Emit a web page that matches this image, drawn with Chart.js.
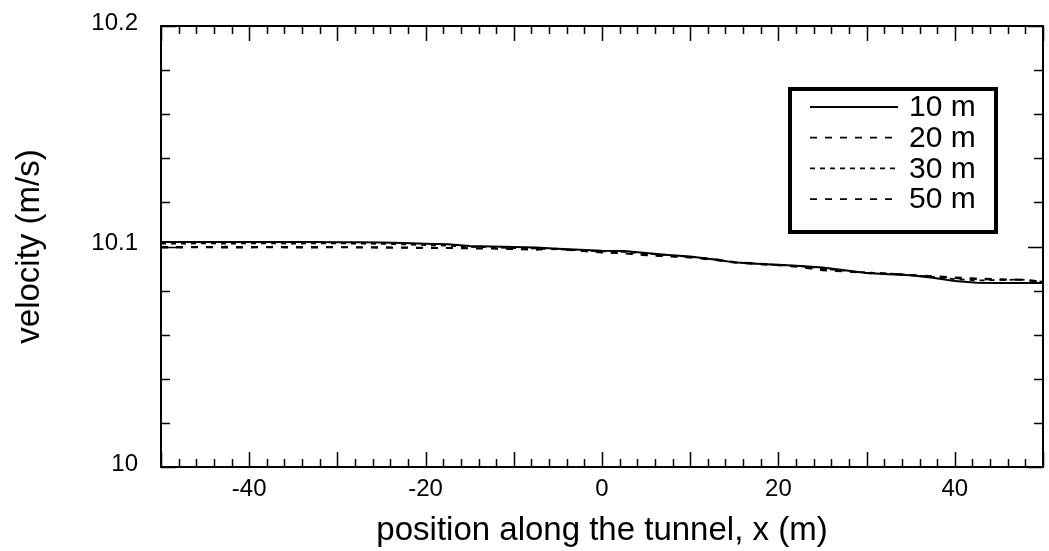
<!DOCTYPE html>
<html>
<head>
<meta charset="utf-8">
<script src="https://cdn.jsdelivr.net/npm/chart.js@4/dist/chart.umd.min.js"></script>
<style>
  html, body { margin: 0; padding: 0; background: #fff; }
  canvas { display: block; }
</style>
</head>
<body>
<canvas id="velocityChart" width="1049" height="551"></canvas>
<script>
// positions along the tunnel (m)
const positions = [-50, -47.5, -45, -42.5, -40, -37.5, -35, -32.5, -30, -27.5, -25, -22.5, -20, -17.5, -15, -12.5, -10, -7.5, -5, -2.5,
    0, 2.5, 5, 7.5, 10, 12.5, 15, 17.5, 20, 22.5, 25, 27.5, 30, 32.5, 35, 37.5, 40, 42.5, 45, 47.5, 50];

// velocity (m/s) at each height
const vel10 = [10.1020, 10.1020, 10.1020, 10.1020, 10.1020, 10.1020, 10.1020, 10.1020, 10.1019, 10.1019, 10.1018, 10.1016, 10.1012, 10.1010, 10.1002, 10.1000, 10.0998, 10.0995, 10.0990, 10.0985,
    10.0981, 10.0980, 10.0970, 10.0962, 10.0955, 10.0942, 10.0928, 10.0922, 10.0917, 10.0912, 10.0905, 10.0892, 10.0880, 10.0874, 10.0870, 10.0858, 10.0843, 10.0836, 10.0834, 10.0834, 10.0834];
const vel20 = [10.0998, 10.0998, 10.0998, 10.0999, 10.0998, 10.0998, 10.0999, 10.0998, 10.0998, 10.0997, 10.0997, 10.0996, 10.0995, 10.0994, 10.0993, 10.0992, 10.0990, 10.0989, 10.0988, 10.0980,
    10.0972, 10.0970, 10.0962, 10.0957, 10.0952, 10.0945, 10.0930, 10.0924, 10.0916, 10.0910, 10.0897, 10.0888, 10.0880, 10.0878, 10.0872, 10.0866, 10.0860, 10.0855, 10.0852, 10.0850, 10.0842];
const vel30 = [10.1013, 10.1013, 10.1014, 10.1013, 10.1014, 10.1014, 10.1013, 10.1014, 10.1014, 10.1013, 10.1012, 10.1010, 10.1006, 10.1004, 10.0998, 10.0996, 10.0993, 10.0991, 10.0987, 10.0983,
    10.0978, 10.0975, 10.0968, 10.0960, 10.0953, 10.0943, 10.0929, 10.0922, 10.0916, 10.0911, 10.0900, 10.0890, 10.0882, 10.0878, 10.0871, 10.0862, 10.0852, 10.0846, 10.0848, 10.0850, 10.0840];
const vel50 = [10.0995, 10.0995, 10.0996, 10.0995, 10.0995, 10.0996, 10.0995, 10.0995, 10.0996, 10.0995, 10.0994, 10.0994, 10.0992, 10.0993, 10.0991, 10.0990, 10.0988, 10.0985, 10.0990, 10.0982,
    10.0974, 10.0968, 10.0960, 10.0955, 10.0949, 10.0940, 10.0927, 10.0920, 10.0914, 10.0906, 10.0892, 10.0886, 10.0879, 10.0876, 10.0869, 10.0863, 10.0856, 10.0852, 10.0849, 10.0848, 10.0838];

const seriesNames = ['10 m', '20 m', '30 m', '50 m'];
const seriesValues = [vel10, vel20, vel30, vel50];
const seriesDash = [[], [7, 8], [5, 5], [7, 8]];
const seriesWidth = [2, 1.7, 1.7, 1.7];

const font = '"Liberation Sans", Arial, Helvetica, sans-serif';

// box around the plot with inward ticks on all four sides
const framePlugin = {
    id: 'frame',
    afterDraw(chart) {
        const {ctx, chartArea: a, scales: {x, y}} = chart;
        ctx.save();
        ctx.strokeStyle = '#000';
        ctx.lineWidth = 1.5;
        ctx.beginPath();
        for (let v = -50; v <= 50; v += 2) {
            const px = Math.round(x.getPixelForValue(v)) + 0.5;
            const len = v % 10 === 0 ? 15 : 8;
            ctx.moveTo(px, a.bottom); ctx.lineTo(px, a.bottom - len);
            ctx.moveTo(px, a.top); ctx.lineTo(px, a.top + len);
        }
        for (let i = 0; i <= 10; i++) {
            const v = 10 + i * 0.02;
            const py = Math.round(y.getPixelForValue(v)) + 0.5;
            const len = i % 5 === 0 ? 15 : 9;
            ctx.moveTo(a.left, py); ctx.lineTo(a.left + len, py);
            ctx.moveTo(a.right, py); ctx.lineTo(a.right - len, py);
        }
        ctx.stroke();
        ctx.lineWidth = 2;
        ctx.strokeRect(a.left, a.top, a.right - a.left, a.bottom - a.top);
        ctx.restore();
    }
};

// boxed legend in the upper right
const legendPlugin = {
    id: 'boxLegend',
    afterDraw(chart) {
        const {ctx} = chart;
        const bx = 790, by = 89, bw = 206, bh = 143;
        ctx.save();
        ctx.fillStyle = '#fff';
        ctx.fillRect(bx, by, bw, bh);
        ctx.strokeStyle = '#000';
        ctx.lineWidth = 4;
        ctx.strokeRect(bx, by, bw, bh);
        ctx.font = '30px ' + font;
        ctx.textBaseline = 'middle';
        ctx.fillStyle = '#000';
        chart.data.datasets.forEach((ds, i) => {
            const cy = 107 + i * 30.7;
            ctx.lineWidth = ds.borderWidth;
            ctx.setLineDash(ds.borderDash);
            ctx.beginPath();
            ctx.moveTo(810, cy);
            ctx.lineTo(898, cy);
            ctx.stroke();
            ctx.setLineDash([]);
            ctx.fillText(ds.label, 909, cy + 1);
        });
        ctx.restore();
    }
};

// keep the plot box at a fixed place on the canvas
const noEdgePad = s => { s.paddingTop = 0; s.paddingBottom = 0; s.paddingLeft = 0; s.paddingRight = 0; };

new Chart(document.getElementById('velocityChart'), {
    type: 'line',
    data: {
        labels: positions,
        datasets: seriesNames.map((name, i) => ({
            label: name,
            data: positions.map((p, j) => ({x: p, y: seriesValues[i][j]})),
            borderColor: '#000',
            borderWidth: seriesWidth[i],
            borderDash: seriesDash[i],
            pointRadius: 0,
            tension: 0,
            fill: false
        }))
    },
    options: {
        responsive: false,
        animation: false,
        devicePixelRatio: 1,
        layout: {padding: {left: 0, right: 6, top: 26, bottom: 0}},
        plugins: {legend: {display: false}, tooltip: {enabled: false}},
        scales: {
            x: {
                type: 'linear',
                min: -50,
                max: 50,
                afterFit: s => { s.height = 84; noEdgePad(s); },
                grid: {display: false, drawTicks: false},
                border: {display: false},
                ticks: {
                    stepSize: 10,
                    padding: 8,
                    maxRotation: 0,
                    autoSkip: false,
                    color: '#000',
                    font: {family: font, size: 24},
                    callback: v => (v % 20 === 0 && Math.abs(v) < 50) ? String(v) : ''
                },
                title: {
                    display: true,
                    text: 'position along the tunnel, x (m)',
                    color: '#000',
                    font: {family: font, size: 33},
                    padding: {top: 0, bottom: 0}
                }
            },
            y: {
                min: 10,
                max: 10.2,
                afterFit: s => { s.width = 161; noEdgePad(s); },
                grid: {display: false, drawTicks: false},
                border: {display: false},
                ticks: {
                    stepSize: 0.1,
                    padding: 23,
                    labelOffset: -3,
                    color: '#000',
                    font: {family: font, size: 24},
                    callback: v => String(Math.round(v * 10) / 10)
                },
                title: {
                    display: true,
                    text: 'velocity (m/s)',
                    color: '#000',
                    font: {family: font, size: 33},
                    padding: {top: 10, bottom: 0}
                }
            }
        }
    },
    plugins: [framePlugin, legendPlugin]
});
</script>
</body>
</html>
